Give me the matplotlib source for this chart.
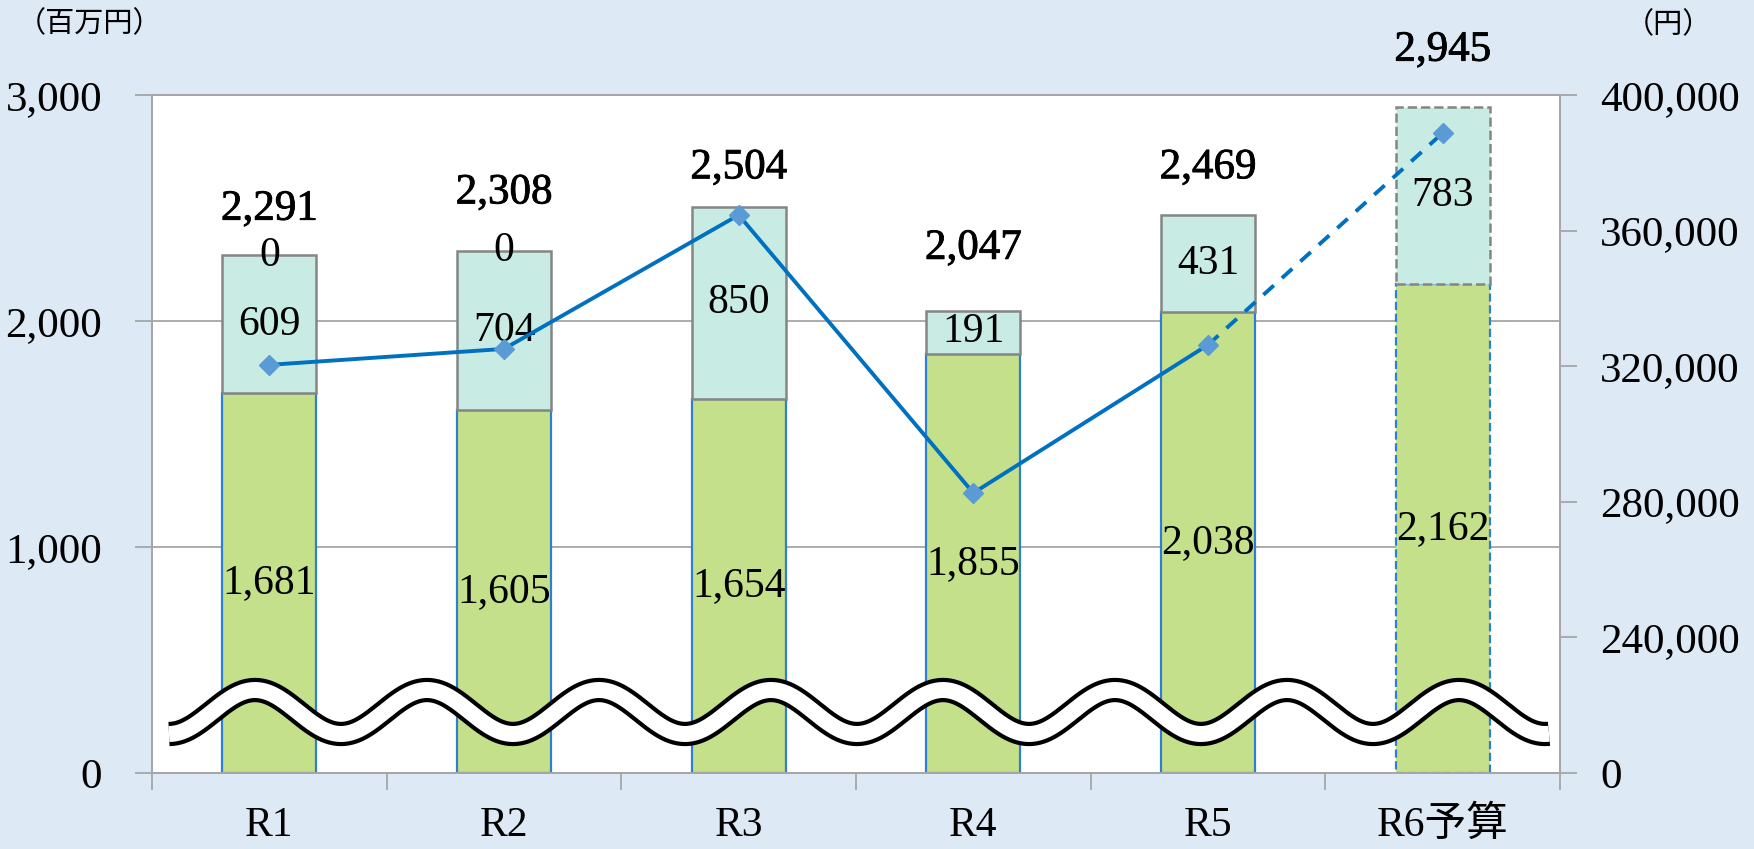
import matplotlib
matplotlib.use('Agg')
import matplotlib.pyplot as plt
import matplotlib.patheffects as pe
from matplotlib.ticker import FuncFormatter
import numpy as np

# ---------------- data ----------------
categories = ['R1', 'R2', 'R3', 'R4', 'R5', 'R6予算']
base_values = [1681, 1605, 1654, 1855, 2038, 2162]
added_values = [609, 704, 850, 191, 431, 783]
other_values = [0, 0, None, None, None, None]
total_values = [2291, 2308, 2504, 2047, 2469, 2945]
per_capita = [320400, 325100, 364600, 282600, 326300, 388800]
left_ticks = [0, 1000, 2000, 3000]
right_ticks = [200000, 240000, 280000, 320000, 360000, 400000]

# label offsets above stack top (pixels) - layout only
total_label_offsets_px = [46, 58, 39, 62, 47, 57]

# ---------------- style ----------------
BG = '#dde9f5'
GREEN = '#c4e08a'
TEAL = '#c8ece4'
GREEN_EDGE = '#2e7fd0'
TEAL_EDGE = '#858585'
LINE = '#0070c0'
MARK = '#5b9bd5'
GRID = '#a6a6a6'

plt.rcParams['font.family'] = ['Liberation Serif', 'Noto Sans CJK JP']

W, H = 1754, 849
fig = plt.figure(figsize=(W / 100, H / 100), dpi=100)
fig.patch.set_facecolor(BG)
L, R, T, B = 152, 1560, 95, 773
ax = fig.add_axes([L / W, 1 - B / H, (R - L) / W, (B - T) / H])
ax.set_facecolor('white')

x = np.arange(len(categories))
bw = 0.40
n = len(categories)
for i in range(n):
    ls = '--' if i == n - 1 else '-'
    ax.bar(x[i], base_values[i], width=bw, color=GREEN, edgecolor=GREEN_EDGE,
           linewidth=1.6, linestyle=ls, zorder=2)
    ax.bar(x[i], added_values[i], bottom=base_values[i], width=bw, color=TEAL,
           edgecolor=TEAL_EDGE, linewidth=1.8, linestyle=ls, zorder=2)

lab_size = 30
for i in range(n):
    ax.text(x[i], base_values[i] / 2, f'{base_values[i]:,}', ha='center', va='center',
            fontsize=lab_size, zorder=5)
    ax.text(x[i], base_values[i] + added_values[i] / 2, f'{added_values[i]:,}',
            ha='center', va='center', fontsize=lab_size, zorder=5)
    top = base_values[i] + added_values[i]
    if other_values[i] is not None:
        ax.text(x[i], top + other_values[i] / 2, f'{other_values[i]:,}', ha='center',
                va='center', fontsize=lab_size, zorder=5)
    ax.annotate(f'{total_values[i]:,}', xy=(x[i], top),
                xytext=(0, total_label_offsets_px[i]), textcoords='offset pixels',
                ha='center', va='center', fontsize=31, zorder=6,
                path_effects=[pe.withStroke(linewidth=0.6, foreground='black')])

ax.set_xlim(-0.5, n - 0.5)
ax.set_ylim(0, 3000)
ax.set_yticks(left_ticks)
ax.yaxis.set_major_formatter(FuncFormatter(lambda v, p: f'{int(v):,}'))
ax.yaxis.grid(True, color=GRID, linewidth=1.3)
ax.set_axisbelow(True)

ax.set_xticks(np.arange(-0.5, n, 1.0))
ax.set_xticklabels([])
ax.set_xticks(x, minor=True)
ax.set_xticklabels(categories, minor=True)
ax.tick_params(axis='x', which='major', length=12, width=1.3, color=GRID, direction='out')
ax.tick_params(axis='x', which='minor', length=0, pad=24, labelsize=30)
ax.tick_params(axis='y', length=12, width=1.3, color=GRID, pad=24, labelsize=31)

for s in ['left', 'bottom', 'top', 'right']:
    ax.spines[s].set_color(GRID)
    ax.spines[s].set_linewidth(1.3)

# ---------------- secondary axis ----------------
ax2 = ax.twinx()
ax2.set_ylim(200000, 400000)
ax2.set_yticks(right_ticks)
ax2.yaxis.set_major_formatter(
    FuncFormatter(lambda v, p: '0' if v == 200000 else f'{int(v):,}'))
ax2.tick_params(axis='y', length=12, width=1.3, color=GRID, pad=17, labelsize=31)
for s in ['left', 'bottom', 'top', 'right']:
    ax2.spines[s].set_color(GRID)
    ax2.spines[s].set_linewidth(1.3)

ax2.plot(x[:n - 1], per_capita[:n - 1], color=LINE, linewidth=2.8, zorder=3)
ax2.plot(x[n - 2:], per_capita[n - 2:], color=LINE, linewidth=2.8,
         linestyle=(0, (3.6, 2.8)), zorder=3)
ax2.plot(x, per_capita, linestyle='none', marker='D', markersize=10,
         color=MARK, zorder=4)

# ---------------- axis break wave (decoration) ----------------
xs_px = np.linspace(169, 1549, 900)
ys_px = 712 - 22 * np.cos(2 * np.pi * (xs_px - 255) / 172)
xa = (xs_px - L) / (R - L)
ya = (B - ys_px) / (B - T)
ax2.plot(xa, ya, transform=ax2.transAxes, color='black', linewidth=17.5,
         solid_capstyle='butt', zorder=10)
ax2.plot(xa, ya, transform=ax2.transAxes, color='white', linewidth=11.5,
         solid_capstyle='butt', zorder=11)

# ---------------- unit labels ----------------
fig.text(90 / W, 1 - 24 / H, '（百万円）', ha='center', va='center', fontsize=21,
         family=['Noto Sans CJK JP'])
fig.text(1668 / W, 1 - 25 / H, '（円）', ha='center', va='center', fontsize=21,
         family=['Noto Sans CJK JP'])

fig.savefig('out.png', dpi=100, facecolor=fig.get_facecolor())
